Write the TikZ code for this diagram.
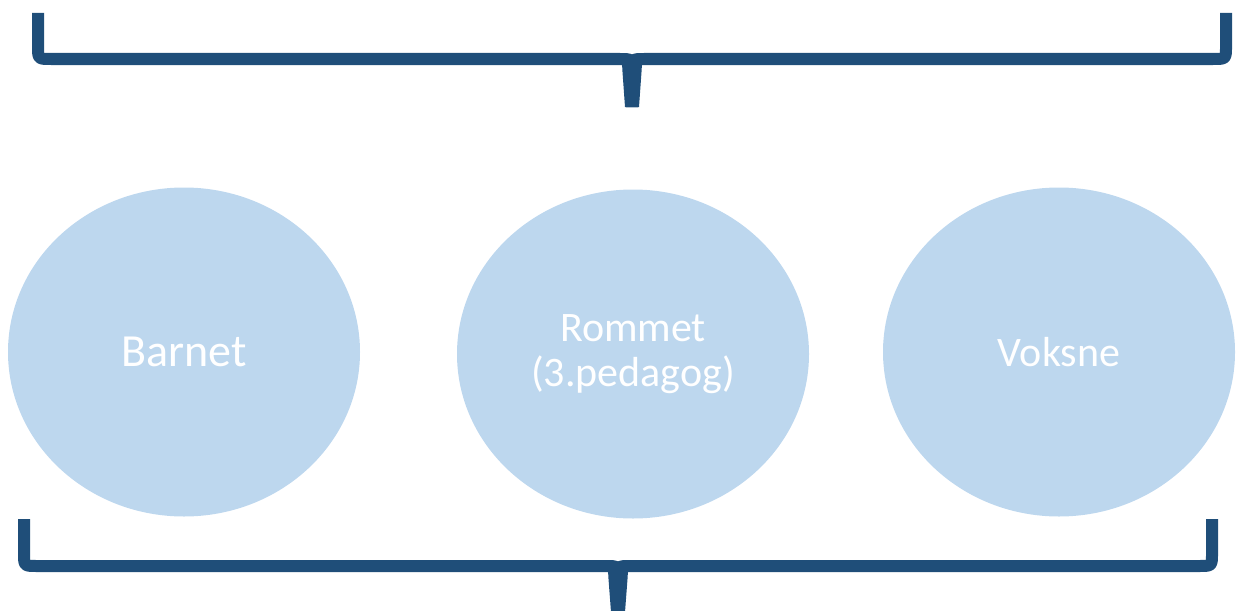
\documentclass[tikz,border=0pt]{standalone}
\usepackage{fontspec}
\setmainfont{Carlito}
\usetikzlibrary{shapes.geometric}
\definecolor{bracecol}{HTML}{1F4E79}
\definecolor{circfill}{HTML}{BDD7EE}
\tikzset{
  bubble/.style={ellipse, fill=circfill, draw=none, minimum width=352pt, minimum height=329pt, inner sep=0pt, text=white, align=center},
  brace/.style={draw=bracecol, line width=12pt, line cap=butt, line join=round},
  spike/.style={fill=bracecol, draw=none}
}
\begin{document}
\begin{tikzpicture}[x=1pt,y=-1pt]
\useasboundingbox (0,0) rectangle (1238,610);
% top brace
\coordinate (tl) at (38,13);
\coordinate (tr) at (1226,13);
\coordinate (tm) at (632,107);
\draw[brace] (tl) -- (38,46) .. controls (38,59) .. (51,59) -- (620,59) .. controls (632,59) .. (632,71) -- (tm);
\draw[brace] (tr) -- (1226,46) .. controls (1226,59) .. (1213,59) -- (644,59) .. controls (632,59) .. (632,71) -- (tm);
\fill[spike] (618,60) .. controls (622,62) .. (622.5,72) -- (625,107) -- (639,107) -- (641.5,72) .. controls (642,62) .. (646,60) -- cycle;
% bottom brace
\coordinate (bl) at (24,519);
\coordinate (br) at (1212,519);
\coordinate (bm) at (618,612);
\draw[brace] (bl) -- (24,553) .. controls (24,566) .. (37,566) -- (606,566) .. controls (618,566) .. (618,578) -- (bm);
\draw[brace] (br) -- (1212,553) .. controls (1212,566) .. (1199,566) -- (630,566) .. controls (618,566) .. (618,578) -- (bm);
\fill[spike] (604,567) .. controls (608,569) .. (608.5,579) -- (611,612) -- (625,612) -- (627.5,579) .. controls (628,569) .. (632,567) -- cycle;
% bubbles
\node[bubble, font=\fontsize{46}{50}\selectfont] (barnet) at (184,352) {Barnet};
\node[bubble, font=\fontsize{42}{45}\selectfont] (rommet) at (633,354) {Rommet\\(3.pedagog)};
\node[bubble, font=\fontsize{42}{48}\selectfont] (voksne) at (1059,352) {Voksne};
\end{tikzpicture}
\end{document}
